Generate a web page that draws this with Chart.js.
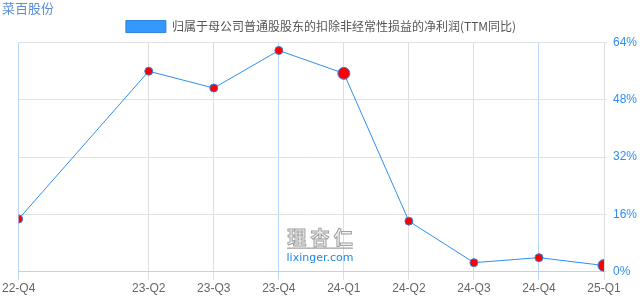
<!DOCTYPE html>
<html>
<head>
<meta charset="utf-8">
<script src="https://cdn.jsdelivr.net/npm/chart.js@4"></script>
<style>
  html, body { margin: 0; padding: 0; background: #fff; }
  #wrap { width: 640px; height: 300px; }
</style>
</head>
<body>
<div id="wrap"><canvas id="profitChart"></canvas></div>
<script>
// ---- datos ----
const quarterLabels = ['22-Q4', '23-Q1', '23-Q2', '23-Q3', '23-Q4', '24-Q1', '24-Q2', '24-Q3', '24-Q4', '25-Q1'];
const quarterIdx = [0, 2, 3, 4, 5, 6, 7, 8, 9];
const growthPct = [14.7, 56.0, 51.3, 61.8, 55.4, 14.1, 2.5, 3.9, 1.7];
const yTicks = [0, 16, 32, 48, 64];

const cjk = '"Noto Sans CJK SC", "Noto Sans", sans-serif';
const latin = '"Liberation Sans", Arial, sans-serif';

// marca de agua
const watermark = {
    id: 'watermark',
    afterDatasetsDraw(chart) {
        const c = chart.ctx;
        const cx = 320;
        const y = chart.chartArea.bottom;
        c.save();
        c.textAlign = 'center';
        c.textBaseline = 'alphabetic';
        c.font = 'bold 19px ' + cjk;
        c.lineWidth = 1;
        c.strokeStyle = '#a0a0a0';
        c.fillStyle = '#f2f2f2';
        c.fillText('理 杏 仁', cx, y - 27);
        c.strokeText('理 杏 仁', cx, y - 27);
        c.strokeStyle = '#888';
        c.beginPath();
        c.moveTo(cx - 33, y - 23.5);
        c.lineTo(cx + 33, y - 23.5);
        c.stroke();
        c.font = '11px "DejaVu Sans", sans-serif';
        c.fillStyle = '#1e88e5';
        c.fillText('lixinger.com', cx, y - 11);
        c.restore();
    }
};

const points = quarterIdx.map((q, i) => ({ x: q, y: growthPct[i] }));

new Chart(document.getElementById('profitChart'), {
    type: 'line',
    data: {
        datasets: [{
            label: '归属于母公司普通股股东的扣除非经常性损益的净利润(TTM同比)',
            data: points,
            borderColor: '#2f8ef0',
            backgroundColor: '#3399ff',
            borderWidth: 1,
            pointBackgroundColor: '#ff0000',
            pointBorderColor: '#3a7fe0',
            pointBorderWidth: 1,
            pointRadius: [4, 4, 4, 4, 6, 4, 4, 4, 6],
            tension: 0
        }]
    },
    options: {
        responsive: true,
        maintainAspectRatio: false,
        animation: false,
        layout: { padding: { left: 2, right: 0, top: 0, bottom: 2 } },
        plugins: {
            title: {
                display: true,
                text: '菜百股份',
                align: 'start',
                color: '#5b8ed8',
                font: { family: cjk, size: 13, weight: 'normal' },
                padding: { top: 0, bottom: 0 }
            },
            legend: {
                position: 'top',
                labels: {
                    boxWidth: 40,
                    boxHeight: 12,
                    color: '#555',
                    font: { family: cjk, size: 12 },
                    padding: 5,
                    generateLabels(chart) {
                        const ds = chart.data.datasets[0];
                        return [{
                            text: ds.label,
                            fillStyle: '#3399ff',
                            strokeStyle: '#2a7fd8',
                            lineWidth: 1,
                            fontColor: '#555',
                            datasetIndex: 0
                        }];
                    }
                }
            },
            tooltip: { enabled: false }
        },
        scales: {
            x: {
                type: 'linear',
                min: 0,
                max: 9,
                afterBuildTicks(axis) {
                    axis.ticks = quarterIdx.map(v => ({ value: v }));
                },
                ticks: {
                    autoSkip: false,
                    maxRotation: 0,
                    color: '#666',
                    font: { family: latin, size: 12 },
                    padding: 2,
                    callback: v => quarterLabels[v]
                },
                grid: {
                    color: ctx => (ctx.tick && quarterLabels[ctx.tick.value].endsWith('Q4')) ? '#b8d6fb' : '#dedede',
                    tickLength: 8
                },
                border: { color: '#d0d0d0' }
            },
            y: {
                position: 'right',
                min: 0,
                max: 64,
                afterBuildTicks(axis) {
                    axis.ticks = yTicks.map(v => ({ value: v }));
                },
                afterFit(axis) {
                    axis.width = 36;
                },
                ticks: {
                    color: '#2f8ef0',
                    font: { family: latin, size: 12 },
                    padding: 6,
                    callback: v => v + '%'
                },
                grid: { color: '#e2e2e2', tickLength: 3 },
                border: { display: false }
            }
        }
    },
    plugins: [watermark]
});
</script>
</body>
</html>
